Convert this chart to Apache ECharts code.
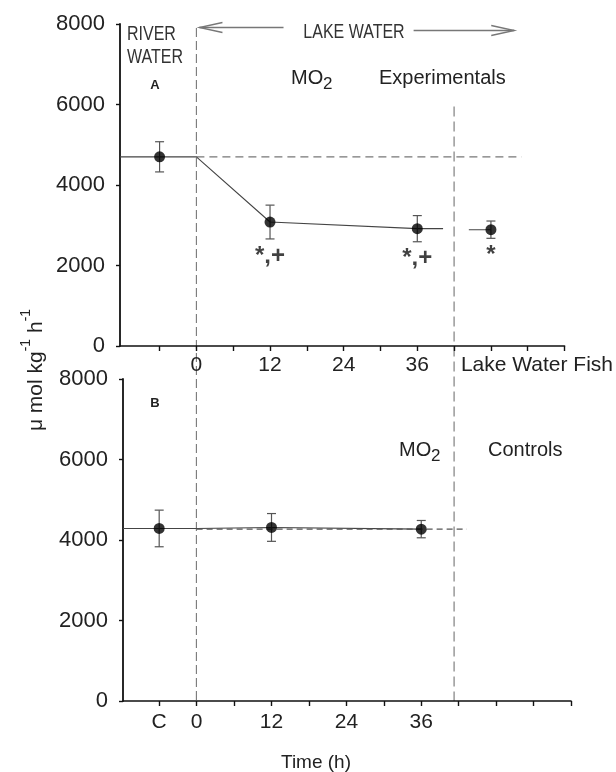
<!DOCTYPE html>
<html><head><meta charset="utf-8">
<script src="https://cdn.jsdelivr.net/npm/echarts@6/dist/echarts.min.js"></script>
<style>html,body{margin:0;padding:0;background:#fff}#c{width:616px;height:772px}</style>
</head><body><div id="c"></div>
<script>
// ---------- Panel A : Experimentals ----------
const timeA = [-6, 12, 36, 48];            // -6 = river water, 48 = lake water fish
const meanA = [4700, 3080, 2915, 2890];
const seA   = [375, 420, 325, 215];
const sigA  = ['', '*,+', '*,+', '*'];
const lineAx = [-12.45, 0, 12, 36, 40.2];
const lineAy = [4700, 4700, 3080, 2915, 2915];
const lakeSegX = [44.4, 48];
const lakeSegY = [2890, 2890];
const refAx = [0, 53];
const refAy = [4700, 4700];

// ---------- Panel B : Controls ----------
const timeB = [-6, 12, 36];
const meanB = [4287, 4312, 4270];
const seB   = [455, 345, 215];
const lineBx = [-11.8, 0, 12, 36];
const lineBy = [4287, 4287, 4312, 4270];
const refBx = [0, 43.3];
const refBy = [4270, 4270];

// ---------- axes ----------
const xTickVals = [-6, 0, 6, 12, 18, 24, 30, 36, 42, 48, 54, 60];
const xLabelValsA = [0, 12, 24, 36, 55.5];
const xLabelTextA = ['0', '12', '24', '36', 'Lake Water Fish'];
const xLabelValsB = [-6, 0, 12, 24, 36];
const xLabelTextB = ['C', '0', '12', '24', '36'];
const yMin = 0, yMax = 8000, yStep = 2000;

const FONT = 'Liberation Sans, Arial, sans-serif';

const zip = (a, b) => a.map((v, i) => [v, b[i]]);

function errRender(params, api) {
  const x = api.value(0), lo = api.value(1), hi = api.value(2);
  const pLo = api.coord([x, lo]), pHi = api.coord([x, hi]);
  const hw = 4.5, st = { stroke: '#555', lineWidth: 1.2 };
  return { type: 'group', children: [
    { type: 'line', shape: { x1: pLo[0], y1: pLo[1], x2: pHi[0], y2: pHi[1] }, style: st },
    { type: 'line', shape: { x1: pHi[0] - hw, y1: pHi[1], x2: pHi[0] + hw, y2: pHi[1] }, style: st },
    { type: 'line', shape: { x1: pLo[0] - hw, y1: pLo[1], x2: pLo[0] + hw, y2: pLo[1] }, style: st }
  ]};
}

function xAxisDef(grid, min, labelVals, labelTexts, margin) {
  return {
    type: 'value', gridIndex: grid, min: min, max: 60,
    axisLine: { show: true, onZero: false, lineStyle: { color: '#111', width: 1.6 } },
    axisTick: { show: true, customValues: xTickVals, length: 5, lineStyle: { color: '#111', width: 1.4 } },
    axisLabel: { show: true, customValues: labelVals, margin: margin, fontSize: 21, color: '#222', fontFamily: FONT,
      formatter: v => { const i = labelVals.indexOf(v); return i >= 0 ? labelTexts[i] : ''; } },
    splitLine: { show: false }
  };
}
function yAxisDef(grid) {
  return {
    type: 'value', gridIndex: grid, min: yMin, max: yMax, interval: yStep,
    axisLine: { show: true, onZero: false, lineStyle: { color: '#111', width: 1.8 } },
    axisTick: { show: true, length: 4, lineStyle: { color: '#111', width: 1.4 } },
    axisLabel: { fontSize: 22, color: '#222', margin: 15, fontFamily: FONT, formatter: v => String(v) },
    splitLine: { show: false }
  };
}

const chart = echarts.init(document.getElementById('c'), null, { renderer: 'canvas' });
const option = {
  animation: false,
  backgroundColor: '#fff',
  textStyle: { fontFamily: FONT },
  grid: [
    { left: 120, top: 24, width: 448, height: 322 },
    { left: 123, top: 379, width: 448, height: 322 }
  ],
  xAxis: [
    xAxisDef(0, -12.45, xLabelValsA, xLabelTextA, 9),
    xAxisDef(1, -11.8, xLabelValsB, xLabelTextB, 11)
  ],
  yAxis: [yAxisDef(0), yAxisDef(1)],
  series: [
    // Panel A
    { type: 'line', xAxisIndex: 0, yAxisIndex: 0, data: zip(refAx, refAy), symbol: 'none',
      lineStyle: { color: '#777', width: 1.2, type: [8, 5] }, z: 1 },
    { type: 'line', xAxisIndex: 0, yAxisIndex: 0, data: zip(lineAx, lineAy), symbol: 'none',
      lineStyle: { color: '#444', width: 1.1 }, z: 2 },
    { type: 'line', xAxisIndex: 0, yAxisIndex: 0, data: zip(lakeSegX, lakeSegY), symbol: 'none',
      lineStyle: { color: '#444', width: 1.1 }, z: 2 },
    { type: 'custom', xAxisIndex: 0, yAxisIndex: 0, renderItem: errRender,
      encode: { x: 0, y: [1, 2] },
      data: timeA.map((t, i) => [t, meanA[i] - seA[i], meanA[i] + seA[i]]), z: 3 },
    { type: 'scatter', xAxisIndex: 0, yAxisIndex: 0, data: zip(timeA, meanA), symbol: 'circle', symbolSize: 11,
      itemStyle: { color: '#000' }, z: 4 },
    { type: 'scatter', xAxisIndex: 0, yAxisIndex: 0, symbolSize: 0,
      data: timeA.map((t, i) => [t, meanA[i] - seA[i]]),
      label: { show: true, position: 'bottom', distance: 5, fontSize: 24, fontWeight: 'bold', color: '#111',
        fontFamily: FONT, formatter: p => sigA[p.dataIndex] }, z: 4 },
    // Panel B
    { type: 'line', xAxisIndex: 1, yAxisIndex: 1, data: zip(refBx, refBy), symbol: 'none',
      lineStyle: { color: '#555', width: 1.2, type: [6, 4] }, z: 2 },
    { type: 'line', xAxisIndex: 1, yAxisIndex: 1, data: zip(lineBx, lineBy), symbol: 'none',
      lineStyle: { color: '#444', width: 1.1 }, z: 1 },
    { type: 'custom', xAxisIndex: 1, yAxisIndex: 1, renderItem: errRender,
      encode: { x: 0, y: [1, 2] },
      data: timeB.map((t, i) => [t, meanB[i] - seB[i], meanB[i] + seB[i]]), z: 3 },
    { type: 'scatter', xAxisIndex: 1, yAxisIndex: 1, data: zip(timeB, meanB), symbol: 'circle', symbolSize: 11,
      itemStyle: { color: '#000' }, z: 4 }
  ]
};
chart.setOption(option);

// ---------- annotations positioned through the axes ----------
const pA = (x, y) => chart.convertToPixel({ gridIndex: 0 }, [x, y]);
const pB = (x, y) => chart.convertToPixel({ gridIndex: 1 }, [x, y]);
const v0top = pA(0, 7900), v0bot = pB(0, 0);
const v42top = pA(42, 5950), v42bot = pB(0, 0);
const xL1 = pA(0.5, 0)[0], xL2 = pA(14.2, 0)[0];
const xR1 = pA(35.4, 0)[0], xR2 = pA(51.8, 0)[0];
const arrowCol = '#777';
const txt = (x, y, text, size, style, el) => Object.assign({ type: 'text', x: x, y: y, silent: true,
  style: Object.assign({ text: text, fontSize: size, fontFamily: FONT, fill: '#222', verticalAlign: 'middle', align: 'left' }, style || {}) },
  el || {});
const narrow = { fill: '#333' }, squeeze = { scaleX: 0.8 };

chart.setOption({ graphic: [
  { type: 'line', shape: { x1: v0top[0], y1: v0top[1], x2: v0top[0], y2: v0bot[1] },
    style: { stroke: '#777', lineWidth: 1.1, lineDash: [9, 4] }, z: 0 },
  { type: 'line', shape: { x1: v42top[0], y1: v42top[1], x2: v42top[0], y2: v42bot[1] },
    style: { stroke: '#999', lineWidth: 1.5, lineDash: [10, 5] }, z: 0 },
  // arrows
  { type: 'line', shape: { x1: xL1, y1: 27.5, x2: xL2, y2: 27.5 }, style: { stroke: arrowCol, lineWidth: 1.3 } },
  { type: 'polyline', shape: { points: [[xL1 + 23, 22.5], [xL1, 27.5], [xL1 + 23, 32.5]] }, style: { stroke: arrowCol, lineWidth: 1.3, fill: null } },
  { type: 'line', shape: { x1: xR1, y1: 30.5, x2: xR2, y2: 30.5 }, style: { stroke: arrowCol, lineWidth: 1.3 } },
  { type: 'polyline', shape: { points: [[xR2 - 23, 25.5], [xR2, 30.5], [xR2 - 23, 35.5]] }, style: { stroke: arrowCol, lineWidth: 1.3, fill: null } },
  txt(127, 34.5, 'RIVER', 20, narrow, squeeze),
  txt(127, 57.5, 'WATER', 20, narrow, squeeze),
  txt(354, 32.5, 'LAKE WATER', 20, Object.assign({ align: 'center' }, narrow), squeeze),
  txt(155, 85, 'A', 13, { fontWeight: 'bold', align: 'center' }),
  txt(155, 403, 'B', 13, { fontWeight: 'bold', align: 'center' }),
  txt(291, 78, 'MO', 20),
  txt(323, 84, '2', 17),
  txt(379, 78, 'Experimentals', 20),
  txt(399, 450, 'MO', 20),
  txt(431, 456, '2', 17),
  txt(488, 450, 'Controls', 20),
  txt(316, 763, 'Time (h)', 19, { align: 'center' }),
  { type: 'text', x: 33, y: 370, rotation: Math.PI / 2, silent: true,
    style: { text: '{n|\u03bc mol kg}{s|-1}{n| h}{s|-1}', align: 'center', verticalAlign: 'middle',
      fontFamily: FONT, fill: '#222',
      rich: { n: { fontSize: 21, lineHeight: 28, verticalAlign: 'bottom', fontFamily: FONT, fill: '#222' },
              s: { fontSize: 14, lineHeight: 28, verticalAlign: 'top', fontFamily: FONT, fill: '#222' } } } }
]});
</script>
</body></html>
